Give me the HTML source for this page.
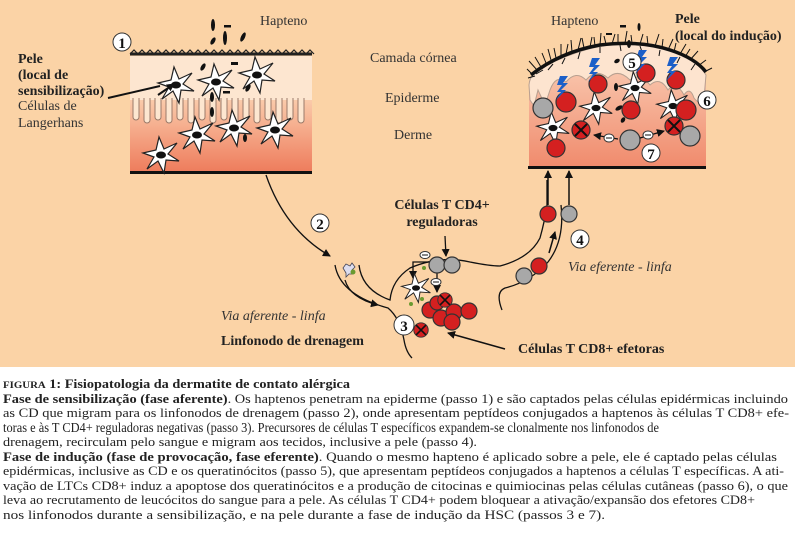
<!DOCTYPE html>
<html><head><meta charset="utf-8"><style>
html,body{margin:0;padding:0;background:#fff;width:795px;height:533px;overflow:hidden}
svg{display:block}
.s{font-family:"Liberation Serif",serif}
</style></head><body>
<svg width="795" height="533" viewBox="0 0 795 533" xmlns="http://www.w3.org/2000/svg">
<defs>
<linearGradient id="derm" x1="0" y1="0" x2="0" y2="1">
<stop offset="0" stop-color="#fbd0b0"/><stop offset="1" stop-color="#ee7c5c"/></linearGradient>
<linearGradient id="derm2" x1="0" y1="0" x2="0" y2="1">
<stop offset="0" stop-color="#fbd5bd"/><stop offset="1" stop-color="#f08a6c"/></linearGradient>
<symbol id="star" viewBox="-20 -20 40 40" overflow="visible">
<path d="M-18,-2 L-5,-5 L-2,-18 L3,-6 L16,-12 L7,-1 L18,6 L5,5 L3,18 L-3,6 L-14,14 L-7,2 Z" fill="#fff" stroke="#222" stroke-width="1.2"/>
<ellipse cx="0" cy="0" rx="5" ry="3.5" fill="#111"/>
</symbol>
<symbol id="xc" viewBox="-10 -10 20 20" overflow="visible">
<circle r="9" fill="#d42020" stroke="#333" stroke-width="1.2"/>
<path d="M-6,-6 L6,6 M6,-6 L-6,6" stroke="#111" stroke-width="2"/>
</symbol>
<symbol id="bolt" viewBox="-8 -12 16 24" overflow="visible">
<path d="M-2,-12 L6,-12 L1,-5 L6,-5 L-1,2 L4,2 L-6,12 L-1,4 L-5,4 L0,-3 L-5,-3 Z" fill="#1c5fc8"/>
</symbol>
<marker id="ar" markerWidth="8" markerHeight="8" refX="7" refY="4" orient="auto" markerUnits="userSpaceOnUse">
<path d="M0,0 L8,4 L0,8 Z" fill="#111"/></marker>
</defs>
<rect x="0" y="0" width="795" height="367" fill="#fbd3a6"/>

<!-- LEFT SKIN -->
<rect x="130" y="95" width="182" height="77" fill="url(#derm)"/>
<path d="M130,56 L312,56 L312,100 L130,100 Z" fill="#fde6d0"/>
<g fill="#fde6d0" stroke="#9a7a6a" stroke-width="1">
<path d="M133,95 v22 a3,3 0 0 0 6,0 v-22"/><path d="M144,95 v25 a3,3 0 0 0 6,0 v-25"/><path d="M155,95 v22 a3,3 0 0 0 6,0 v-22"/><path d="M166,95 v25 a3,3 0 0 0 6,0 v-25"/><path d="M177,95 v22 a3,3 0 0 0 6,0 v-22"/><path d="M188,95 v25 a3,3 0 0 0 6,0 v-25"/><path d="M199,95 v22 a3,3 0 0 0 6,0 v-22"/><path d="M210,95 v25 a3,3 0 0 0 6,0 v-25"/><path d="M221,95 v22 a3,3 0 0 0 6,0 v-22"/><path d="M232,95 v25 a3,3 0 0 0 6,0 v-25"/><path d="M243,95 v22 a3,3 0 0 0 6,0 v-22"/><path d="M254,95 v25 a3,3 0 0 0 6,0 v-25"/><path d="M265,95 v22 a3,3 0 0 0 6,0 v-22"/><path d="M276,95 v25 a3,3 0 0 0 6,0 v-25"/><path d="M287,95 v22 a3,3 0 0 0 6,0 v-22"/><path d="M298,95 v25 a3,3 0 0 0 6,0 v-25"/>
</g>
<rect x="130" y="88" width="182" height="10" fill="#fde6d0"/>
<path d="M130,54 L312,54" stroke="#222" stroke-width="3"/>
<path d="M130,54 l4,-4 l4,4 l4,-4 l4,4 l4,-4 l4,4 l4,-4 l4,4 l4,-4 l4,4 l4,-4 l4,4 l4,-4 l4,4 l4,-4 l4,4 l4,-4 l4,4 l4,-4 l4,4 l4,-4 l4,4 l4,-4 l4,4 l4,-4 l4,4 l4,-4 l4,4 l4,-4 l4,4 l4,-4 l4,4 l4,-4 l4,4 l4,-4 l4,4 l4,-4 l4,4 l4,-4 l4,4 l4,-4 l4,4 l4,-4 l4,4 l4,-4 l4,4" stroke="#222" stroke-width="1.2" fill="none"/>
<rect x="130" y="171" width="182" height="3" fill="#111"/>
<use href="#star" x="156" y="65" width="40" height="40"/>
<use href="#star" x="196" y="62" width="40" height="40"/>
<use href="#star" x="237" y="55" width="40" height="40"/>
<use href="#star" x="177" y="115" width="40" height="40"/>
<use href="#star" x="214" y="108" width="40" height="40"/>
<use href="#star" x="255" y="110" width="40" height="40"/>
<use href="#star" x="141" y="135" width="40" height="40"/>
<g fill="#111">
<ellipse cx="213" cy="25" rx="2" ry="6"/><ellipse cx="225" cy="38" rx="2" ry="7"/><rect x="224" y="25" width="7" height="2.5"/><ellipse cx="213" cy="41" rx="2" ry="4" transform="rotate(30 213 41)"/><ellipse cx="243" cy="37" rx="2" ry="5" transform="rotate(25 243 37)"/>
<ellipse cx="203" cy="67" rx="2" ry="4" transform="rotate(30 203 67)"/><rect x="231" y="62" width="7" height="3"/><ellipse cx="212" cy="97" rx="2" ry="5"/><ellipse cx="212" cy="112" rx="2" ry="5"/><rect x="223" y="91" width="7" height="2.5"/><ellipse cx="248" cy="88" rx="2" ry="4" transform="rotate(30 248 88)"/><ellipse cx="245" cy="138" rx="2" ry="4"/>
</g>

<!-- RIGHT SKIN -->
<path d="M529,85 Q530,72 545,66 Q600,38 650,44 Q690,50 706,75 L706,168 L529,168 Z" fill="url(#derm2)"/>
<path d="M529,85 Q530,72 545,66 Q600,38 650,44 Q690,50 706,75 L704,98 Q700,106 694,98 Q690,86 684,95 Q676,80 668,90 Q660,76 650,85 Q640,72 630,80 Q618,68 608,78 Q596,68 586,80 Q576,70 566,82 Q556,74 550,90 L545,105 L538,90 L534,106 L530,100 Z" fill="#fde4cf" stroke="#b8a090" stroke-width="1"/>
<path d="M531,75 Q560,52 600,45 Q640,40 670,50 Q695,58 706,72" stroke="#111" stroke-width="3.5" fill="none"/>
<g stroke="#111" stroke-width="1">
<path d="M533,75 l-6,-6 M537,70 l-8,-9 M541,67 l-6,-10 M546,63 l-4,-10 M551,60 l-3,-11 M556,58 l-2,-10 M561,56 l0,-12 M566,54 l2,-10 M572,52 l-1,-12 M578,50 l3,-12 M584,48 l-2,-10 M590,47 l2,-10 M595,46 l-1,-9 M600,45 l1,-12 M606,44 l-2,-8 M612,44 l3,-10 M618,43 l0,-9 M625,43 l2,-12 M632,43 l-1,-8 M640,44 l3,-10 M648,45 l-1,-9 M655,46 l4,-12 M662,48 l1,-9 M668,50 l5,-11 M674,52 l2,-9 M680,54 l6,-10 M685,57 l5,-8 M690,60 l8,-9 M698,66 l8,-6 M704,72 l8,-4"/>
<path d="M535,76 l-7,2 M543,70 l-7,4 M553,64 l-5,6 M565,58 l-3,6 M580,52 l-2,7 M600,47 l0,6 M620,45 l1,6 M640,46 l2,6 M660,50 l-1,6 M680,57 l-3,6 M695,64 l-4,6"/>
</g>
<rect x="528" y="166" width="178" height="3" fill="#111"/>
<g fill="#111"><rect x="620" y="25" width="6" height="2.5"/><ellipse cx="639" cy="27" rx="1.5" ry="4"/><ellipse cx="629" cy="44" rx="2" ry="4"/><rect x="606" y="33" width="6" height="2"/><ellipse cx="617" cy="61" rx="2" ry="3" transform="rotate(60 617 61)"/><ellipse cx="616" cy="87" rx="2" ry="4"/><ellipse cx="619" cy="108" rx="2" ry="4" transform="rotate(60 619 108)"/><ellipse cx="623" cy="120" rx="2" ry="3" transform="rotate(30 623 120)"/></g>
<use href="#star" x="535" y="110" width="36" height="36"/>
<use href="#star" x="578" y="90" width="36" height="36"/>
<use href="#star" x="617" y="70" width="36" height="36"/>
<use href="#star" x="655" y="88" width="36" height="36"/>
<g stroke="#333" stroke-width="1.2">
<circle cx="543" cy="108" r="10" fill="#a8a8a8"/>
<circle cx="566" cy="102" r="10" fill="#d42020"/>
<circle cx="598" cy="84" r="9" fill="#d42020"/>
<circle cx="646" cy="73" r="9" fill="#d42020"/>
<circle cx="676" cy="80" r="9" fill="#d42020"/>
<circle cx="631" cy="110" r="9" fill="#d42020"/>
<circle cx="686" cy="110" r="10" fill="#d42020"/>
<circle cx="690" cy="136" r="10" fill="#a8a8a8"/>
<circle cx="630" cy="140" r="10" fill="#a8a8a8"/>
<circle cx="556" cy="148" r="9" fill="#d42020"/>
</g>
<use href="#xc" x="571" y="120" width="20" height="20"/>
<use href="#xc" x="664" y="116" width="20" height="20"/>
<use href="#bolt" x="554" y="76" width="16" height="24"/>
<use href="#bolt" x="586" y="58" width="16" height="24"/>
<use href="#bolt" x="633" y="50" width="16" height="24"/>
<use href="#bolt" x="664" y="57" width="16" height="24"/>
<path d="M618,139 L594,135" stroke="#111" stroke-width="1.2" marker-end="url(#ar)"/>
<path d="M640,138 L664,131" stroke="#111" stroke-width="1.2" marker-end="url(#ar)"/>
<g fill="#fff" stroke="#333" stroke-width="1"><ellipse cx="609" cy="138" rx="5" ry="4"/><ellipse cx="648" cy="135" rx="5" ry="4"/></g>
<g stroke="#111"><path d="M606,138 h6 M645,135 h6"/></g>

<!-- connectors -->
<path d="M266,175 Q285,230 330,256" stroke="#111" stroke-width="1.3" fill="none" marker-end="url(#ar)"/>
<path d="M335,265 Q340,295 388,308 Q400,318 404,340 Q406,352 412,358" stroke="#111" stroke-width="1.3" fill="none"/>
<path d="M359,265 Q362,290 390,300 Q392,280 410,268 Q440,255 470,262 Q490,266 500,266 Q530,258 540,238 Q545,220 547,205 L547,180" stroke="#111" stroke-width="1.3" fill="none"/>
<path d="M561,205 Q565,240 548,262 Q530,282 505,288 Q495,292 502,310" stroke="#111" stroke-width="1.3" fill="none"/>
<path d="M345,280 Q350,298 378,305" stroke="#111" stroke-width="1.3" fill="none" marker-end="url(#ar)"/>
<path d="M548,205 L548,171" stroke="#111" stroke-width="1.5" marker-end="url(#ar)"/>
<path d="M569,205 L569,171" stroke="#111" stroke-width="1.5" marker-end="url(#ar)"/>
<path d="M549,253 L555,232" stroke="#111" stroke-width="1.5" marker-end="url(#ar)"/>
<path d="M445,236 L446,256" stroke="#111" stroke-width="1.3" marker-end="url(#ar)"/>
<path d="M437,272 L437,292" stroke="#111" stroke-width="1.3" marker-end="url(#ar)"/>
<path d="M430,262 L413,262 L413,278" stroke="#111" stroke-width="1.3" fill="none" marker-end="url(#ar)"/>
<path d="M505,349 L448,333" stroke="#111" stroke-width="1.5" marker-end="url(#ar)"/>
<path d="M158,95 L174,84" stroke="#111" stroke-width="2" marker-end="url(#ar)"/>
<path d="M108,98 L160,86" stroke="#111" stroke-width="2"/>

<!-- lymph node cells -->
<g stroke="#333" stroke-width="1.2">
<circle cx="437" cy="265" r="8" fill="#a8a8a8"/><circle cx="452" cy="265" r="8" fill="#a8a8a8"/>
<circle cx="548" cy="214" r="8" fill="#d42020"/><circle cx="569" cy="214" r="8" fill="#a8a8a8"/>
<circle cx="539" cy="266" r="8" fill="#d42020"/><circle cx="524" cy="276" r="8" fill="#a8a8a8"/>
<circle cx="430" cy="310" r="8" fill="#d42020"/><circle cx="441" cy="318" r="8" fill="#d42020"/>
<circle cx="454" cy="312" r="8" fill="#d42020"/><circle cx="469" cy="311" r="8" fill="#d42020"/>
<circle cx="452" cy="322" r="8" fill="#d42020"/><circle cx="437" cy="303" r="7" fill="#d42020"/>
</g>
<use href="#xc" x="437" y="292" width="16" height="16"/>
<use href="#xc" x="413" y="322" width="16" height="16"/>
<use href="#star" x="400" y="272" width="32" height="32"/>
<g fill="#fff" stroke="#333" stroke-width="1"><ellipse cx="425" cy="255" rx="5" ry="3.5"/><ellipse cx="436" cy="282" rx="5" ry="3.5"/></g>
<path d="M422,255 h6 M433,282 h6" stroke="#111"/>
<g fill="#6a9a30"><circle cx="424" cy="268" r="2"/><circle cx="422" cy="299" r="2"/><circle cx="411" cy="304" r="2"/></g>
<path d="M343,268 l3,-4 l4,2 l2,-3 l3,4 l-3,3 l1,4 l-4,0 l-3,3 l0,-4 Z" fill="#dde" stroke="#445" stroke-width="0.8"/><circle cx="353" cy="272" r="2.5" fill="#6a9a30"/>

<!-- number circles -->
<g fill="#fff" stroke="#333" stroke-width="1">
<circle cx="122" cy="42" r="9"/><circle cx="320" cy="223" r="9"/><circle cx="404" cy="325" r="10"/><circle cx="580" cy="239" r="9"/>
<circle cx="632" cy="62" r="9"/><circle cx="707" cy="100" r="9"/><circle cx="651" cy="153" r="9"/>
</g>
<g class="s" font-weight="bold" font-size="15" text-anchor="middle" fill="#111">
<text x="122" y="48">1</text><text x="320" y="229">2</text><text x="404" y="331">3</text><text x="580" y="245">4</text><text x="632" y="68">5</text><text x="707" y="106">6</text><text x="651" y="159">7</text>
</g>

<!-- labels -->
<g class="s" fill="#333" font-size="14">
<text x="260" y="25">Hapteno</text>
<text x="551" y="25">Hapteno</text>
<text x="370" y="62">Camada córnea</text>
<text x="385" y="102">Epiderme</text>
<text x="394" y="139">Derme</text>
<text x="18" y="110">Células de</text>
<text x="18" y="127">Langerhans</text>
<text x="221" y="320" font-style="italic">Via aferente - linfa</text>
<text x="568" y="271" font-style="italic">Via eferente - linfa</text>
</g>
<g class="s" fill="#222" font-size="14" font-weight="bold">
<text x="18" y="63">Pele</text>
<text x="18" y="79">(local de</text>
<text x="18" y="95">sensibilização)</text>
<text x="675" y="23">Pele</text>
<text x="675" y="40">(local do indução)</text>
<text x="442" y="209" text-anchor="middle">Células T CD4+</text>
<text x="442" y="226" text-anchor="middle">reguladoras</text>
<text x="221" y="345">Linfonodo de drenagem</text>
<text x="518" y="353">Células T CD8+ efetoras</text>
</g>

<!-- caption -->
<g class="s" fill="#222" font-size="12.5">
<text x="3" y="388" font-weight="bold" textLength="347" lengthAdjust="spacingAndGlyphs"><tspan font-size="9.5">FIGURA</tspan> 1: Fisiopatologia da dermatite de contato alérgica</text>
<text x="3" y="403" textLength="785" lengthAdjust="spacingAndGlyphs"><tspan font-weight="bold">Fase de sensibilização (fase aferente)</tspan>. Os haptenos penetram na epiderme (passo 1) e são captados pelas células epidérmicas incluindo</text>
<text x="3" y="417" textLength="786" lengthAdjust="spacingAndGlyphs">as CD que migram para os linfonodos de drenagem (passo 2), onde apresentam peptídeos conjugados a haptenos às células T CD8+ efe-</text>
<text x="3" y="432" font-size="13.5" textLength="656" lengthAdjust="spacingAndGlyphs">toras e às T CD4+ reguladoras negativas (passo 3). Precursores de células T específicos expandem-se clonalmente nos linfonodos de</text>
<text x="3" y="446" textLength="474" lengthAdjust="spacingAndGlyphs">drenagem, recirculam pelo sangue e migram aos tecidos, inclusive a pele (passo 4).</text>
<text x="3" y="461" textLength="774" lengthAdjust="spacingAndGlyphs"><tspan font-weight="bold">Fase de indução (fase de provocação, fase eferente)</tspan>. Quando o mesmo hapteno é aplicado sobre a pele, ele é captado pelas células</text>
<text x="3" y="475" textLength="781" lengthAdjust="spacingAndGlyphs">epidérmicas, inclusive as CD e os queratinócitos (passo 5), que apresentam peptídeos conjugados a haptenos a células T específicas. A ati-</text>
<text x="3" y="490" textLength="785" lengthAdjust="spacingAndGlyphs">vação de LTCs CD8+ induz a apoptose dos queratinócitos e a produção de citocinas e quimiocinas pelas células cutâneas (passo 6), o que</text>
<text x="3" y="504" textLength="752" lengthAdjust="spacingAndGlyphs">leva ao recrutamento de leucócitos do sangue para a pele. As células T CD4+ podem bloquear a ativação/expansão dos efetores CD8+</text>
<text x="3" y="519" textLength="602" lengthAdjust="spacingAndGlyphs">nos linfonodos durante a sensibilização, e na pele durante a fase de indução da HSC (passos 3 e 7).</text>
</g>
</svg>
</body></html>
